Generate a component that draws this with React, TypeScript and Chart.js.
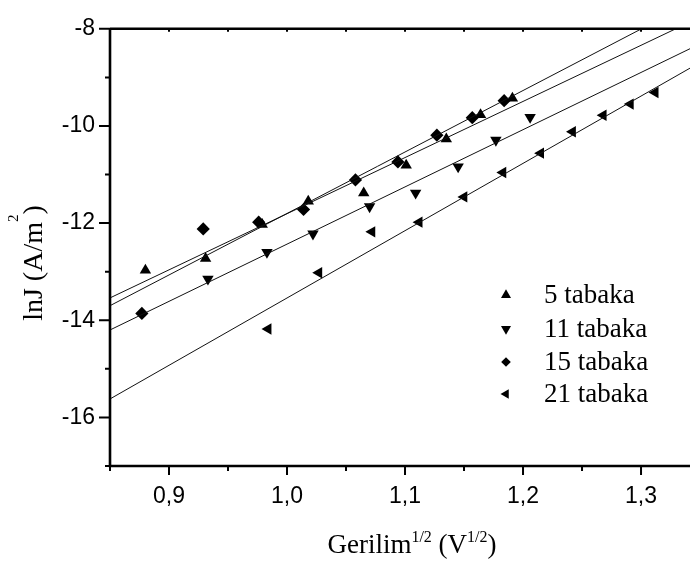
import React, { useEffect, useRef } from 'react';
import { Chart, registerables } from 'chart.js';

Chart.register(...registerables);

// ---- data ----
const legendLabels = ['5 tabaka', '11 tabaka', '15 tabaka', '21 tabaka'];

const tab5X = [0.880, 0.931, 0.979, 1.018, 1.065, 1.101, 1.135, 1.164, 1.191];
const tab5Y = [-12.97, -12.73, -12.03, -11.55, -11.38, -10.81, -10.27, -9.77, -9.43];

const tab11X = [0.933, 0.983, 1.022, 1.070, 1.109, 1.145, 1.177, 1.206];
const tab11Y = [-13.15, -12.60, -12.22, -11.66, -11.38, -10.84, -10.29, -9.82];

const tab15X = [0.877, 0.929, 0.976, 1.014, 1.058, 1.094, 1.127, 1.157, 1.184];
const tab15Y = [-13.86, -12.12, -11.98, -11.72, -11.11, -10.74, -10.19, -9.83, -9.48];

const tab21X = [0.984, 1.027, 1.072, 1.112, 1.150, 1.183, 1.215, 1.242, 1.268, 1.291, 1.312];
const tab21Y = [-14.18, -13.02, -12.18, -11.98, -11.46, -10.96, -10.56, -10.12, -9.78, -9.55, -9.31];

// fitted straight lines: end points at the plot's left and right edges
const fitX = [0.85, 1.3415];
const fit5Y = [-13.54, -7.86];
const fit11Y = [-14.20, -8.41];
const fit15Y = [-13.70, -7.48];
const fit21Y = [-15.62, -8.81];

const xMin = 0.85;
const xMax = 1.3415;
const yMin = -17;
const yMax = -8;
const xMinorTicks = [0.85, 0.9, 0.95, 1.0, 1.05, 1.1, 1.15, 1.2, 1.25, 1.3];
const xLabelTicks = [0.9, 1.0, 1.1, 1.2, 1.3];
const yMinorTicks = [-17, -16, -15, -14, -13, -12, -11, -10, -9, -8];
const yLabelTicks = [-16, -14, -12, -10, -8];

const SERIF = "'Liberation Serif', 'Times New Roman', serif";
const SANS = "'Liberation Sans', Arial, sans-serif";

const pts = (xs: number[], ys: number[]) => xs.map((x, i) => ({ x, y: ys[i] }));

type Part = { t: string; sup?: boolean };

function drawRich(ctx: CanvasRenderingContext2D, parts: Part[], cx: number, baseline: number, size: number, supSize: number, supRise: number) {
  const widths = parts.map(p => {
    ctx.font = `${p.sup ? supSize : size}px ${SERIF}`;
    return ctx.measureText(p.t).width;
  });
  const total = widths.reduce((a, b) => a + b, 0);
  let x = cx - total / 2;
  ctx.textAlign = 'left';
  ctx.textBaseline = 'alphabetic';
  parts.forEach((p, i) => {
    ctx.font = `${p.sup ? supSize : size}px ${SERIF}`;
    ctx.fillText(p.t, x, p.sup ? baseline - supRise : baseline);
    x += widths[i];
  });
}

function marker(ctx: CanvasRenderingContext2D, style: string, rot: number, x: number, y: number, r: number) {
  ctx.beginPath();
  if (style === 'triangle') {
    let rad = (rot * Math.PI) / 180;
    ctx.moveTo(x + Math.sin(rad) * r, y - Math.cos(rad) * r);
    rad += (2 * Math.PI) / 3;
    ctx.lineTo(x + Math.sin(rad) * r, y - Math.cos(rad) * r);
    rad += (2 * Math.PI) / 3;
    ctx.lineTo(x + Math.sin(rad) * r, y - Math.cos(rad) * r);
  } else {
    ctx.moveTo(x - r, y);
    ctx.lineTo(x, y - r);
    ctx.lineTo(x + r, y);
    ctx.lineTo(x, y + r);
  }
  ctx.closePath();
  ctx.fill();
}

const decorPlugin = {
  id: 'decor',
  afterDraw(chart: any) {
    const ctx: CanvasRenderingContext2D = chart.ctx;
    const { left, right, top, bottom } = chart.chartArea;
    const xs = chart.scales.x;
    const ys = chart.scales.y;
    ctx.save();
    ctx.strokeStyle = '#000';
    ctx.fillStyle = '#000';
    // axis frame
    ctx.lineWidth = 2.6;
    ctx.beginPath();
    ctx.moveTo(left, top);
    ctx.lineTo(left, bottom);
    ctx.lineTo(right, bottom);
    ctx.moveTo(left, top);
    ctx.lineTo(right, top);
    ctx.stroke();
    // y ticks
    ctx.lineWidth = 2;
    ctx.beginPath();
    yMinorTicks.forEach(v => {
      const py = ys.getPixelForValue(v);
      const len = yLabelTicks.includes(v) ? 11 : 5;
      ctx.moveTo(left - len, py);
      ctx.lineTo(left, py);
    });
    // x ticks
    xMinorTicks.forEach(v => {
      const px = xs.getPixelForValue(v);
      const major = xLabelTicks.some(t => Math.abs(t - v) < 1e-9);
      const len = major ? 9 : 5;
      ctx.moveTo(px, bottom);
      ctx.lineTo(px, bottom + len);
      ctx.moveTo(px, top);
      ctx.lineTo(px, top + 3);
    });
    ctx.stroke();

    // axis titles
    drawRich(ctx, [{ t: 'Gerilim' }, { t: '1/2', sup: true }, { t: ' (V' }, { t: '1/2', sup: true }, { t: ')' }], 412, 553, 27, 16, 11);
    ctx.save();
    ctx.translate(42, 263);
    ctx.rotate(-Math.PI / 2);
    drawRich(ctx, [{ t: 'lnJ (A/m' }, { t: '2', sup: true }, { t: ')' }], 0, 0, 28, 15, 24);
    ctx.restore();

    // legend
    const styles: [string, number, number][] = [
      ['triangle', 0, 5.8],
      ['triangle', 180, 5.8],
      ['rectRot', 0, 4.8],
      ['triangle', 270, 5.5],
    ];
    const rowY = [295, 329, 362, 394];
    legendLabels.forEach((lab, i) => {
      const [s, rot, r] = styles[i];
      marker(ctx, s, rot, 506, rowY[i], r);
      ctx.font = `27px ${SERIF}`;
      ctx.textAlign = 'left';
      ctx.textBaseline = 'middle';
      ctx.fillText(lab, 544, rowY[i] + 1);
    });
    ctx.restore();
  },
};

export default function App() {
  const ref = useRef<HTMLCanvasElement>(null);
  useEffect(() => {
    document.body.style.margin = '0';
    const pointDs = (xs: number[], ys: number[], style: string, rot: number, label: string) => ({
      label,
      data: pts(xs, ys),
      showLine: false,
      pointStyle: style,
      pointRotation: rot,
      pointRadius: 6.6,
      pointBorderWidth: 0,
      backgroundColor: '#000',
      borderColor: '#000',
    });
    const lineDs = (ys: number[]) => ({
      label: '',
      data: pts(fitX, ys),
      showLine: true,
      pointRadius: 0,
      borderColor: '#111',
      borderWidth: 1,
      fill: false,
    });
    const chart = new Chart(ref.current as HTMLCanvasElement, {
      type: 'scatter',
      data: {
        datasets: [
          lineDs(fit5Y),
          lineDs(fit11Y),
          lineDs(fit15Y),
          lineDs(fit21Y),
          pointDs(tab5X, tab5Y, 'triangle', 0, legendLabels[0]),
          pointDs(tab11X, tab11Y, 'triangle', 180, legendLabels[1]),
          pointDs(tab15X, tab15Y, 'rectRot', 0, legendLabels[2]),
          pointDs(tab21X, tab21Y, 'triangle', 270, legendLabels[3]),
        ] as any,
      },
      options: {
        animation: false,
        responsive: false,
        maintainAspectRatio: false,
        layout: { autoPadding: false, padding: { left: 0, right: 0, top: 18, bottom: 0 } },
        plugins: { legend: { display: false }, tooltip: { enabled: false }, title: { display: false } },
        scales: {
          x: {
            type: 'linear',
            min: xMin,
            max: xMax,
            afterFit: (s: any) => { s.height = 95; s.paddingLeft = 0; s.paddingRight = 0; },
            afterBuildTicks: (s: any) => { s.ticks = xMinorTicks.map(v => ({ value: v })); },
            grid: { display: false, drawTicks: false },
            border: { display: false },
            ticks: {
              autoSkip: false,
              maxRotation: 0,
              padding: 17,
              color: '#000',
              font: { family: SANS, size: 23 },
              callback: (v: any) => {
                const n = Number(v);
                return xLabelTicks.some(t => Math.abs(t - n) < 1e-9) ? n.toFixed(1).replace('.', ',') : '';
              },
            },
          },
          y: {
            type: 'linear',
            min: yMin,
            max: yMax,
            afterFit: (s: any) => { s.width = 110; s.paddingBottom = 0; },
            afterBuildTicks: (s: any) => { s.ticks = yMinorTicks.map(v => ({ value: v })); },
            grid: { display: false, drawTicks: false },
            border: { display: false },
            ticks: {
              autoSkip: false,
              padding: 15,
              color: '#000',
              font: { family: SANS, size: 23 },
              callback: (v: any) => (yLabelTicks.includes(Number(v)) ? String(v) : ''),
            },
          },
        },
      },
      plugins: [decorPlugin],
    });
    return () => chart.destroy();
  }, []);
  return <canvas ref={ref} width={690} height={561} style={{ display: 'block', width: 690, height: 561 }} />;
}
